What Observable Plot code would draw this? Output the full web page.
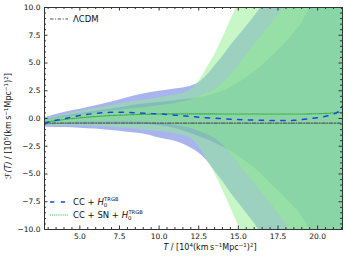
<!DOCTYPE html>
<html><head><meta charset="utf-8">
<script src="https://cdn.jsdelivr.net/npm/d3@7"></script>
<script src="https://cdn.jsdelivr.net/npm/@observablehq/plot@0.6"></script>
<style>body{margin:0;background:#fff;} #chart{width:349px;height:257px;}</style>
</head><body><div id="chart"></div>
<script>
// ---- data ----
const T = [2.77, 3.5, 4, 5, 6, 7, 8, 9, 10, 11, 12, 12.5, 13, 13.5, 14, 14.5, 15, 15.5, 16, 16.5, 17, 17.5, 18, 18.5, 19, 19.5, 20, 20.5, 21, 21.55];
const blue2Hi = [0.06, 0.36, 0.55, 0.83, 1.15, 1.48, 1.87, 2.2, 2.45, 2.66, 2.9, 3.22, 3.85, 4.7, 5.56, 6.53, 7.4, 8.28, 9.16, 10.14, 11.12, 12.12, 13.12, 14.15, 15.2, 16.3, 17.4, 18.5, 19.7, 21.4];
const blue2Lo = [-0.78, -0.80, -0.81, -0.87, -0.95, -1.08, -1.23, -1.4, -1.75, -2.05, -2.65, -3.1, -3.75, -4.7, -5.64, -6.67, -7.6, -8.52, -9.44, -10.46, -11.48, -12.48, -13.48, -14.45, -15.4, -16.3, -17.2, -18.1, -18.9, -19.4];
const blue1Hi = [-0.11, 0.10, 0.23, 0.43, 0.65, 0.85, 1.09, 1.3, 1.45, 1.61, 1.75, 1.87, 2.0, 2.2, 2.46, 2.78, 3.2, 3.68, 4.16, 4.74, 5.42, 6.12, 6.82, 7.65, 8.6, 9.9, 11.1, 12.4, 13.9, 16.0];
const blue1Lo = [-0.61, -0.54, -0.49, -0.47, -0.45, -0.45, -0.45, -0.5, -0.65, -0.89, -1.35, -1.63, -1.9, -2.2, -2.54, -2.92, -3.4, -3.92, -4.44, -5.06, -5.78, -6.48, -7.18, -7.95, -8.8, -9.9, -10.9, -12.0, -13.1, -14.0];
const green2Hi = [-0.01, 0.18, 0.35, 0.65, 0.9, 1.18, 1.42, 1.67, 1.88, 2.13, 2.6, 3.3, 4.5, 5.7, 7.2, 8.8, 10.4, 11.8, 13.2, 14.6, 16.0, 17.4, 18.8, 20.2, 21.6, 23.0, 24.4, 25.8, 27.2, 28.8];
const green2Lo = [-0.71, -0.66, -0.65, -0.65, -0.7, -0.78, -0.88, -1.03, -1.16, -1.37, -1.8, -2.5, -3.7, -4.9, -6.4, -8.0, -9.6, -11.0, -12.4, -13.8, -15.2, -16.6, -18.0, -19.4, -20.8, -22.2, -23.6, -25.0, -26.4, -28.0];
const green1Hi = [-0.18, -0.02, 0.1, 0.32, 0.5, 0.67, 0.82, 0.96, 1.14, 1.36, 1.7, 1.95, 2.25, 2.6, 3.15, 3.9, 4.8, 5.7, 6.6, 7.5, 8.4, 9.3, 10.3, 11.4, 12.5, 13.6, 14.7, 15.8, 16.9, 18.15];
const green1Lo = [-0.54, -0.46, -0.4, -0.32, -0.3, -0.27, -0.28, -0.32, -0.42, -0.6, -0.9, -1.15, -1.45, -1.8, -2.35, -3.1, -4.0, -4.9, -5.8, -6.7, -7.6, -8.5, -9.5, -10.6, -11.7, -12.8, -13.9, -15.0, -16.1, -17.25];

const blueLineT = [2.77, 3.5, 4, 4.5, 5, 5.5, 6, 6.5, 7, 7.5, 8, 8.5, 9, 9.5, 10, 10.5, 11, 11.5, 12, 12.5, 13, 13.5, 14, 14.5, 15, 15.5, 16, 16.5, 17, 17.5, 18, 18.5, 19, 19.5, 20, 20.5, 21, 21.3, 21.55];
const blueLineF = [-0.42, -0.16, -0.02, 0.13, 0.27, 0.38, 0.46, 0.52, 0.56, 0.57, 0.55, 0.52, 0.47, 0.44, 0.42, 0.36, 0.3, 0.24, 0.19, 0.12, 0.07, 0.03, -0.01, -0.06, -0.1, -0.12, -0.14, -0.16, -0.18, -0.18, -0.18, -0.16, -0.1, -0.02, 0.08, 0.2, 0.4, 0.62, 1.1];
const greenLineT = [2.77, 3.5, 4, 5, 6, 7, 8, 9, 10, 12, 14, 16, 18, 20, 21, 21.55];
const greenLineF = [-0.33, -0.2, -0.1, 0.06, 0.18, 0.27, 0.33, 0.38, 0.41, 0.42, 0.41, 0.4, 0.4, 0.43, 0.5, 0.55];
const lcdmT = [2.77, 21.55];
const lcdmF = [-0.42, -0.42];

const xTicks = [5, 7.5, 10, 12.5, 15, 17.5, 20];
const xTickLabels = ["5.0", "7.5", "10.0", "12.5", "15.0", "17.5", "20.0"];
const yTicks = [-10, -7.5, -5, -2.5, 0, 2.5, 5, 7.5, 10];
const yTickLabels = ["\u221210.0", "\u22127.5", "\u22125.0", "\u22122.5", "0.0", "2.5", "5.0", "7.5", "10.0"];
const seriesNames = ["\u039bCDM", "CC + ", "CC + SN + "];

// ---- build ----
const W = 349, H = 257, mL = 44, mR = 7, mT = 7, mB = 28;
const iw = W - mL - mR, ih = H - mT - mB;
const band = (lo, hi) => T.map((t, i) => ({T: t, lo: lo[i], hi: hi[i]}));
const pts = (xs, ys) => xs.map((t, i) => ({T: t, F: ys[i]}));
const xMinor = d3.range(3, 21.51, 0.5).filter(v => !xTicks.includes(v));
const yMinor = d3.range(-9.5, 9.51, 0.5).filter(v => !yTicks.includes(v));

const BLUE = "#4059d9", GREEN = "#90ee90";
const areaOpts = (fill, op) => ({x: "T", y1: "lo", y2: "hi", fill, fillOpacity: op, curve: "monotone-x", clip: true});
const tickStroke = "#333";
const LC = {stroke: "#555", w: 1.2, dash: "3.5,1.6,1,1.6"};
const BL = {stroke: "#2244dd", w: 1.5, dash: "4.3,6.5"};
const GL = {stroke: "#3aaa3a", w: 1.1, dash: "1,1.1"};

const chart = Plot.plot({
  width: W, height: H,
  marginLeft: mL, marginRight: mR, marginTop: mT, marginBottom: mB,
  x: {domain: [2.77, 21.57]},
  y: {domain: [-10, 10]},
  style: {fontFamily: "DejaVu Sans", fontSize: "7.5px", color: "#111", background: "#fff"},
  marks: [
    Plot.areaY(band(blue2Lo, blue2Hi), areaOpts(BLUE, 0.45)),
    Plot.areaY(band(blue1Lo, blue1Hi), areaOpts(BLUE, 0.45)),
    Plot.areaY(band(green2Lo, green2Hi), areaOpts(GREEN, 0.5)),
    Plot.areaY(band(green1Lo, green1Hi), areaOpts(GREEN, 0.5)),
    Plot.line(pts(lcdmT, lcdmF), {x: "T", y: "F", stroke: LC.stroke, strokeWidth: LC.w, strokeDasharray: LC.dash, clip: true}),
    Plot.line(pts(greenLineT, greenLineF), {x: "T", y: "F", stroke: GL.stroke, strokeWidth: GL.w, strokeDasharray: GL.dash, curve: "monotone-x", clip: true}),
    Plot.line(pts(blueLineT, blueLineF), {x: "T", y: "F", stroke: BL.stroke, strokeWidth: BL.w, strokeDasharray: BL.dash, curve: "monotone-x", clip: true}),
    Plot.frame({stroke: "#333", strokeWidth: 1}),
    Plot.ruleX(xTicks, {x: d => d, insetTop: ih - 3.5, stroke: tickStroke}),
    Plot.ruleX(xTicks, {x: d => d, insetBottom: ih - 3.5, stroke: tickStroke}),
    Plot.ruleX(xMinor, {x: d => d, insetTop: ih - 2, stroke: tickStroke}),
    Plot.ruleX(xMinor, {x: d => d, insetBottom: ih - 2, stroke: tickStroke}),
    Plot.ruleY(yTicks, {y: d => d, insetRight: iw - 3.5, stroke: tickStroke}),
    Plot.ruleY(yTicks, {y: d => d, insetLeft: iw - 3.5, stroke: tickStroke}),
    Plot.ruleY(yMinor, {y: d => d, insetRight: iw - 2, stroke: tickStroke}),
    Plot.ruleY(yMinor, {y: d => d, insetLeft: iw - 2, stroke: tickStroke}),
    Plot.axisX(xTicks, {tickSize: 0, tickPadding: 4, tickFormat: d => xTickLabels[xTicks.indexOf(d)], label: null}),
    Plot.axisY(yTicks, {tickSize: 0, tickPadding: 4, tickFormat: d => yTickLabels[yTicks.indexOf(d)], label: null})
  ]
});
document.getElementById("chart").appendChild(chart);

// ---- legend and axis titles ----
const svg = d3.select(chart);
const g = svg.append("g").attr("font-family", "DejaVu Sans").attr("fill", "#111").attr("text-anchor", "start");
const legend = [
  {y: 19, s: LC, name: seriesNames[0], h0: false},
  {y: 202, s: BL, name: seriesNames[1], h0: true},
  {y: 215, s: GL, name: seriesNames[2], h0: true}
];
legend.forEach(l => {
  g.append("line").attr("x1", 50).attr("x2", 68).attr("y1", l.y).attr("y2", l.y)
    .attr("stroke", l.s.stroke).attr("stroke-width", l.s.w).attr("stroke-dasharray", l.s.dash);
  const t = g.append("text").attr("x", 73).attr("y", l.y + 3).attr("font-size", 8.5);
  t.append("tspan").text(l.name);
  if (l.h0) {
    t.append("tspan").attr("font-style", "italic").text("H");
    t.append("tspan").attr("font-size", 5.5).attr("dy", 2).text("0");
    t.append("tspan").attr("font-size", 5.2).attr("dx", -3.2).attr("dy", -6.2).text("TRGB");
  }
});
function sup(t, s, size) { t.append("tspan").attr("font-size", size).attr("dy", -3).text(s); t.append("tspan").attr("dy", 3).text(""); }
function units(t, ten) {
  t.append("tspan").text(" / [10");
  t.append("tspan").attr("font-size", 5.5).attr("dy", -3).text(ten);
  t.append("tspan").attr("dy", 3).text("(km\u2009s");
  t.append("tspan").attr("font-size", 5.5).attr("dy", -3).text("\u22121");
  t.append("tspan").attr("dy", 3).text("Mpc");
  t.append("tspan").attr("font-size", 5.5).attr("dy", -3).text("\u22121");
  t.append("tspan").attr("dy", 3).text(")");
  t.append("tspan").attr("font-size", 5.5).attr("dy", -3).text("2");
  t.append("tspan").attr("dy", 3).text("]");
}
// x title
const xt = g.append("text").attr("x", 210).attr("y", 250).attr("text-anchor", "middle").attr("font-size", 8);
xt.append("tspan").attr("font-style", "italic").text("T");
units(xt, "4");
// y title
const yt = g.append("text").attr("transform", "translate(11,126) rotate(-90)").attr("text-anchor", "middle").attr("font-size", 8);
yt.append("tspan").attr("font-style", "italic").text("\u2131(T)");
units(yt, "5");
</script>
</body></html>
